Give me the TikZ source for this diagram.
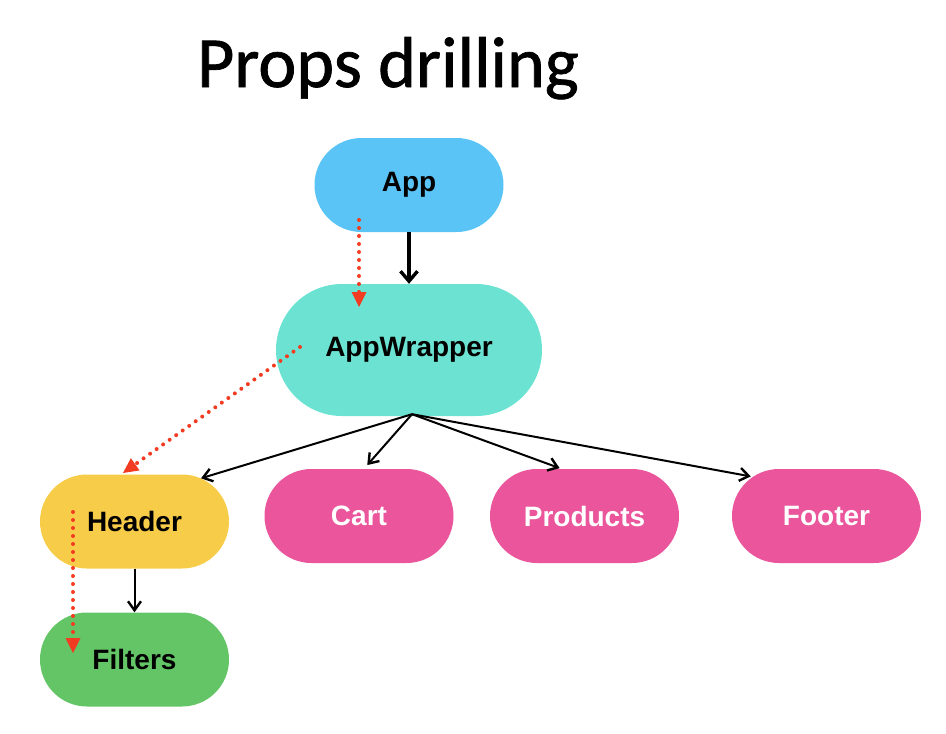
\documentclass[tikz,border=0pt]{standalone}
\usepackage{fontspec}
\setmainfont{Liberation Sans}
\newfontfamily\titlefont[FakeBold=1]{Carlito}
\usepackage{xcolor}
\usetikzlibrary{calc,arrows.meta,shapes.misc,positioning}
\definecolor{appblue}{HTML}{5AC4F6}
\definecolor{wrapteal}{HTML}{6CE3D2}
\definecolor{headyellow}{HTML}{F7CC48}
\definecolor{leafpink}{HTML}{EA559C}
\definecolor{filtgreen}{HTML}{64C567}
\definecolor{propred}{HTML}{F23C22}

\begin{document}
\begin{tikzpicture}[x=1pt,y=-1pt,
  pill/.style={rounded rectangle,minimum width=189pt,minimum height=94pt,inner sep=0pt,
    font=\bfseries\fontsize{28}{32}\selectfont},
  child/.style={-{Straight Barb[length=9pt,width=13pt,line width=2.4pt]},line width=2pt},
  prop/.style={propred,line width=4pt,line cap=round,dash pattern=on 0pt off 8pt,
    -{Triangle[length=15pt,width=15pt,line width=0pt]}}]
\useasboundingbox (0,0) rectangle (946,734);
% title
\node[anchor=base] (title) at (388,87) {\titlefont\fontsize{72}{80}\selectfont Props drilling};
% components
\node[pill,fill=appblue] (app) at (409,185) {App};
\node[pill,fill=wrapteal,minimum width=266pt,minimum height=132pt] (wrapper) at (409,350) {AppWrapper};
\node[pill,fill=headyellow] (header) at (134.5,521.5) {Header};
\node[pill,fill=leafpink,text=white] (cart) at (359,516) {Cart};
\node[pill,fill=leafpink,text=white] (products) at (584.5,516) {Products};
\node[pill,fill=leafpink,text=white] (footer) at (826.5,516) {Footer};
\node[pill,fill=filtgreen] (filters) at (134.5,659.5) {Filters};
% tree
\draw[child,line width=3.2pt,-{Straight Barb[length=10pt,width=17pt,line width=3.4pt]}] (app.south) -- (wrapper.north);
\coordinate (fan) at ($(wrapper.south)+(3,-2)$);
\draw[child] (fan) -- (header.33);
\draw[child,shorten >=5pt] (fan) -- (cart.84);
\draw[child,shorten >=2pt] (fan) -- (products.116);
\draw[child,shorten >=2pt] (fan) -- (footer.152);
\draw[child] (header.south) -- (filters.north);
% props
\coordinate (p1) at (359,220);
\coordinate (p1e) at (359,307);
\coordinate (p2) at (300,347);
\coordinate (p2e) at (123,473);
\coordinate (p3) at (73,512);
\coordinate (p3e) at (73,653);
\draw[prop] (p1) -- (p1e);
\draw[prop] (p2) -- (p2e);
\draw[prop] (p3) -- (p3e);
\end{tikzpicture}
\end{document}
